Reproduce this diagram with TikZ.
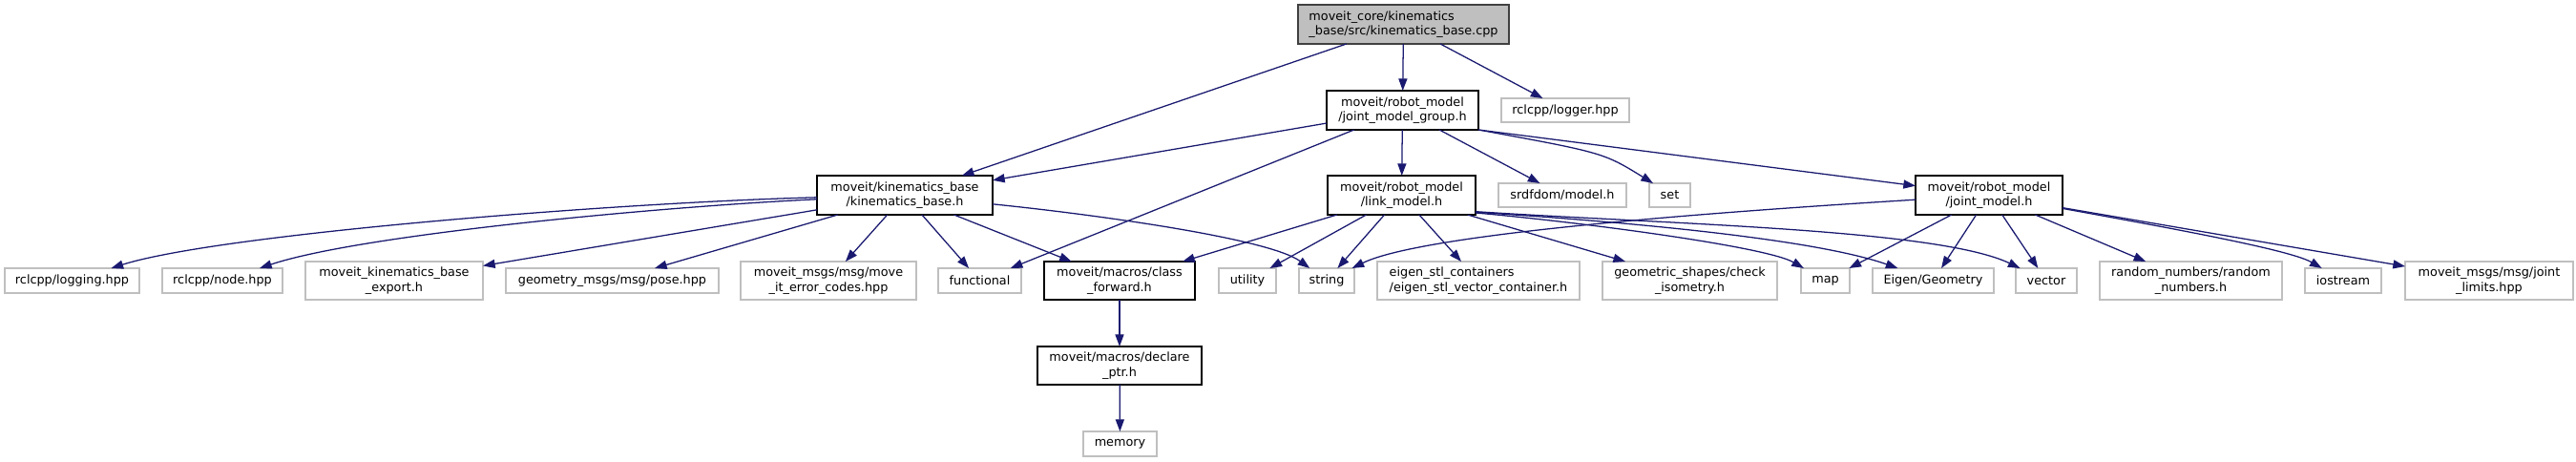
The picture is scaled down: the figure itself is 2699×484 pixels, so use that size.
\documentclass[tikz,border=0pt]{standalone}
\usepackage{fontspec}
\setmainfont{DejaVu Sans}
\usetikzlibrary{arrows.meta}
\definecolor{edgeblue}{HTML}{191970}
\definecolor{graybd}{HTML}{BFBFBF}
\definecolor{rootfill}{HTML}{BFBFBF}
\definecolor{rootbd}{HTML}{404040}
\newcommand\bx[7]{\node[#1, minimum width={(#4-#2)*0.75pt}, minimum height={(#5-#3)*0.75pt}] (#6) at ({(#2+#4)/2},{(#3+#5)/2}) {#7};}
\begin{document}
\begin{tikzpicture}[x=0.75pt,y=-0.75pt,
  base/.style={rectangle, inner sep=0pt, outer sep=0pt, font=\fontsize{9.6}{11.5}\selectfont, align=center},
  blackbox/.style={base, draw=black, line width=1.1pt, fill=white},
  graybox/.style={base, draw=graybd, line width=1.1pt, fill=white},
  rootbox/.style={base, draw=rootbd, line width=1.1pt, fill=rootfill, align=left},
  edge/.style={draw=edgeblue, line width=0.95pt, -{Triangle[length=9.5pt,width=6.8pt]}}]
\path[use as bounding box, fill=white] (0,0) rectangle (2699,484);
% row 0
\bx{rootbox}{1360}{5}{1581}{46}{root}{moveit\_core/kinematics\\\_base/src/kinematics\_base.cpp}
% row 1
\bx{blackbox}{1390}{95}{1549}{136}{jmg}{moveit/robot\_model\\/joint\_model\_group.h}
\bx{graybox}{1573}{103}{1707}{128}{logger}{rclcpp/logger.hpp}
% row 2
\bx{blackbox}{856}{184}{1040}{225}{kb}{moveit/kinematics\_base\\/kinematics\_base.h}
\bx{blackbox}{1391}{184}{1546}{225}{lm}{moveit/robot\_model\\/link\_model.h}
\bx{graybox}{1570}{192}{1704}{217}{srdf}{srdfdom/model.h}
\bx{graybox}{1728}{192}{1771}{217}{set}{set}
\bx{blackbox}{2007}{184}{2161}{225}{jm}{moveit/robot\_model\\/joint\_model.h}
% row 3
\bx{graybox}{5}{281}{146}{307}{logging}{rclcpp/logging.hpp}
\bx{graybox}{170}{281}{296}{307}{nodehpp}{rclcpp/node.hpp}
\bx{graybox}{320}{274}{506}{314}{export}{moveit\_kinematics\_base\\\_export.h}
\bx{graybox}{530}{281}{753}{307}{pose}{geometry\_msgs/msg/pose.hpp}
\bx{graybox}{776}{274}{960}{314}{errcodes}{moveit\_msgs/msg/move\\\_it\_error\_codes.hpp}
\bx{graybox}{983}{281}{1070}{307}{functional}{functional}
\bx{blackbox}{1094}{274}{1252}{314}{cf}{moveit/macros/class\\\_forward.h}
\bx{graybox}{1277}{281}{1337}{307}{utility}{utility}
\bx{graybox}{1361}{281}{1419}{307}{string}{string}
\bx{graybox, align=left}{1443}{274}{1655}{314}{eigen}{eigen\_stl\_containers\\/eigen\_stl\_vector\_container.h}
\bx{graybox}{1679}{274}{1862}{314}{geom}{geometric\_shapes/check\\\_isometry.h}
\bx{graybox}{1887}{281}{1938}{307}{map}{map}
\bx{graybox}{1962}{281}{2089}{307}{eigengeo}{Eigen/Geometry}
\bx{graybox}{2112}{281}{2176}{307}{vector}{vector}
\bx{graybox}{2200}{274}{2391}{314}{random}{random\_numbers/random\\\_numbers.h}
\bx{graybox}{2415}{281}{2495}{307}{iostream}{iostream}
\bx{graybox}{2520}{274}{2696}{314}{jlimits}{moveit\_msgs/msg/joint\\\_limits.hpp}
% row 4, 5
\bx{blackbox}{1087}{363}{1259}{403}{dp}{moveit/macros/declare\\\_ptr.h}
\bx{graybox}{1135}{452}{1212}{478}{memory}{memory}
% edges from root
\draw[edge] (root) -- (kb);
\draw[edge] (root) -- (jmg);
\draw[edge] (root) -- (logger);
% edges from joint_model_group
\draw[edge] (jmg) -- (kb);
\draw[edge] (jmg) -- (functional);
\draw[edge] (jmg) -- (lm);
\draw[edge] (jmg) -- (srdf);
\draw[edge] (jmg.south east) .. controls (1680,160) .. ([xshift=3pt]set.north west);
\draw[edge] (jmg.south east) -- (jm);
% edges from kinematics_base.h
\draw[edge] (kb) .. controls (650,212) and (230,245) .. (logging);
\draw[edge] (kb) .. controls (700,216) and (380,245) .. (nodehpp);
\draw[edge] (kb) -- (export);
\draw[edge] (kb) -- (pose);
\draw[edge] (kb) -- (errcodes);
\draw[edge] (kb) -- (functional);
\draw[edge] (kb) -- (cf);
\draw[edge] (kb) .. controls (1150,225) and (1330,250) .. (string);
% edges from link_model.h
\draw[edge] (lm) -- (cf);
\draw[edge] (lm) -- (utility);
\draw[edge] (lm) -- (string);
\draw[edge] (lm) -- (eigen);
\draw[edge] (lm) -- (geom);
\draw[edge] ([yshift=1.5pt]lm.south east) .. controls (1650,232) and (1850,258) .. (map);
\draw[edge] ([yshift=2pt]lm.south east) .. controls (1700,232) and (1900,250) .. (eigengeo);
\draw[edge] ([yshift=2.5pt]lm.south east) .. controls (1750,235) and (2030,240) .. (vector);
% edges from joint_model.h
\draw[edge] (jm) .. controls (1700,228) and (1480,250) .. (string);
\draw[edge] (jm) -- (map);
\draw[edge] (jm) -- (eigengeo);
\draw[edge] (jm) -- (vector);
\draw[edge] (jm) -- (random);
\draw[edge] (jm) .. controls (2280,240) and (2400,262) .. (iostream);
\draw[edge] (jm) -- (jlimits);
% macros
\draw[edge] (cf) -- (dp);
\draw[edge] (dp) -- (memory);
\end{tikzpicture}
\end{document}
